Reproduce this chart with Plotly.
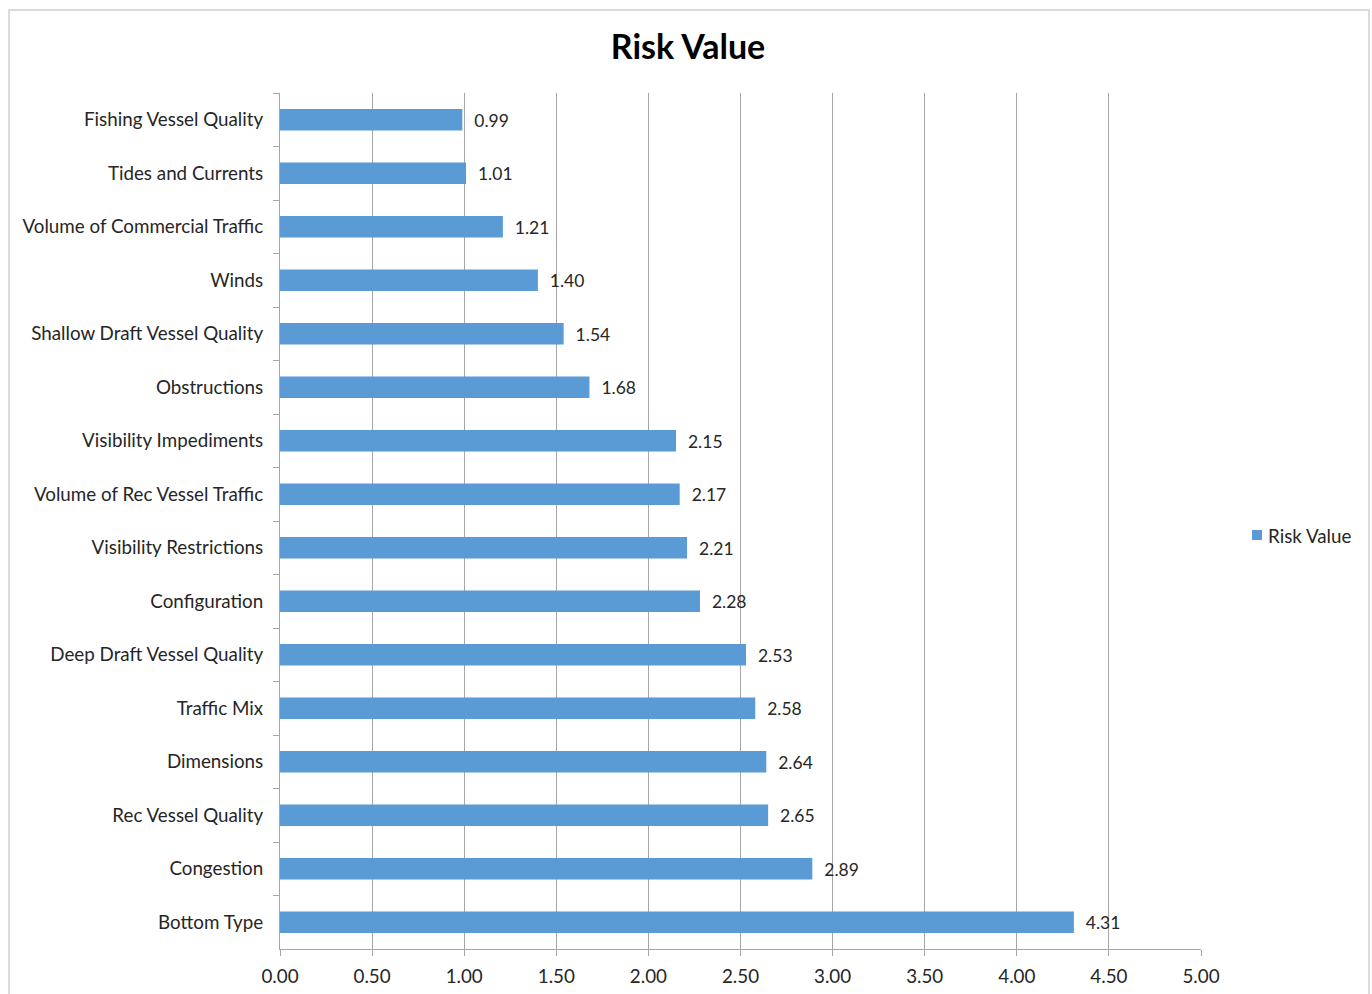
import plotly.graph_objects as go

categories = [
    "Fishing Vessel Quality", "Tides and Currents", "Volume of Commercial Traffic",
    "Winds", "Shallow Draft Vessel Quality", "Obstructions", "Visibility Impediments",
    "Volume of Rec Vessel Traffic", "Visibility Restrictions", "Configuration",
    "Deep Draft Vessel Quality", "Traffic Mix", "Dimensions", "Rec Vessel Quality",
    "Congestion", "Bottom Type",
]
risk_values = [0.99, 1.01, 1.21, 1.40, 1.54, 1.68, 2.15, 2.17, 2.21, 2.28,
               2.53, 2.58, 2.64, 2.65, 2.89, 4.31]
x_ticks = [0, 0.5, 1, 1.5, 2, 2.5, 3, 3.5, 4, 4.5, 5]
x_tick_labels = ["0.00", "0.50", "1.00", "1.50", "2.00", "2.50", "3.00", "3.50", "4.00", "4.50", "5.00"]
series_name = "Risk Value"

FONT = "Lato, Carlito, Open Sans, sans-serif"
GRID = "#A6A6A6"
BLUE = "#5B9BD5"
TXT = "#262626"
FS = 18.8

fig = go.Figure()
fig.add_trace(go.Bar(
    y=categories, x=risk_values, orientation="h", name=series_name,
    marker=dict(color=BLUE, line=dict(width=0)),
    width=0.4,
    text=["  " + f"{v:.2f}" for v in risk_values],
    textposition="outside", cliponaxis=False,
    textfont=dict(family=FONT, size=FS, color=TXT),
    showlegend=False,
))

fig.update_layout(
    width=1372, height=994,
    margin=dict(l=280, r=171, t=93, b=45, autoexpand=False),
    paper_bgcolor="white", plot_bgcolor="white",
    font=dict(family=FONT, size=FS, color=TXT),
    title=dict(text="<b>Risk Value</b>", x=688 / 1372, xref="container", xanchor="center",
               y=1 - 47 / 994, yref="container", yanchor="middle",
               font=dict(family=FONT, size=34, color="#000000")),
    showlegend=False,
    bargap=0.6,
    xaxis=dict(range=[0, 5], tickvals=x_ticks, ticktext=x_tick_labels,
               showgrid=True, gridcolor=GRID, gridwidth=1,
               showline=True, linecolor=GRID, linewidth=1,
               ticks="outside", ticklen=6, tickcolor=GRID,
               ticklabelstandoff=4,
               tickfont=dict(family=FONT, size=FS, color=TXT),
               zeroline=False, fixedrange=True),
    yaxis=dict(categoryorder="array", categoryarray=categories, autorange="reversed",
               showline=True, linecolor=GRID, linewidth=1,
               ticks="outside", ticklen=6, tickcolor=GRID, tickson="boundaries",
               ticklabelstandoff=12,
               tickfont=dict(family=FONT, size=FS, color=TXT),
               showgrid=False, zeroline=False),
)

# chart outer border
fig.add_shape(type="rect", xref="paper", yref="paper",
              x0=(9 - 280) / 921, x1=(1369 - 280) / 921,
              y0=-0.2, y1=(949 - 10) / 856,
              line=dict(color="#D0D0D0", width=1.5), layer="below")

# legend (Excel-style: small square swatch + text)
lx = (1252 - 280) / 921
ly = (949 - 535) / 856
sw = 10 / 921
sh = 10 / 856
fig.add_shape(type="rect", xref="paper", yref="paper",
              x0=lx, x1=lx + sw, y0=ly - sh / 2, y1=ly + sh / 2,
              fillcolor=BLUE, line=dict(width=0))
fig.add_annotation(xref="paper", yref="paper", x=lx + sw + 4 / 921, y=ly,
                   xanchor="left", yanchor="middle", showarrow=False,
                   text=series_name, font=dict(family=FONT, size=FS, color=TXT))

fig.write_html("out.html")
